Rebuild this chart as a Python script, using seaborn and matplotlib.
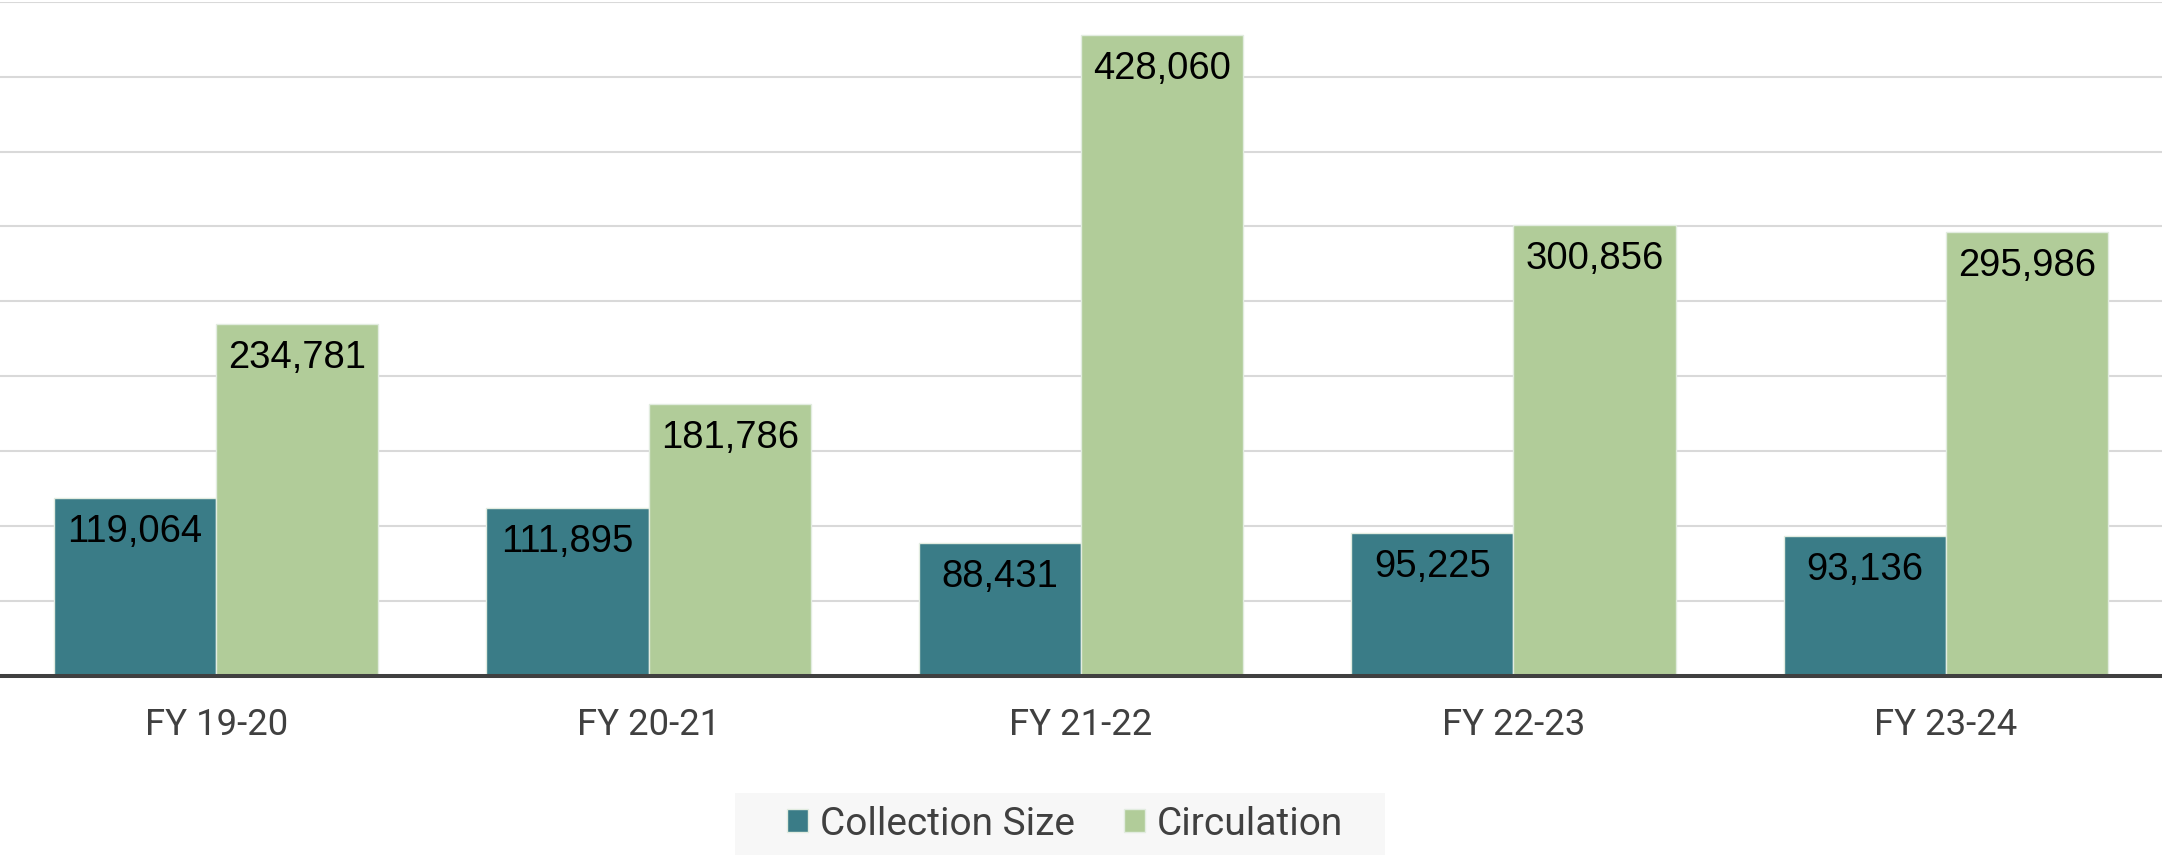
import matplotlib
matplotlib.use("Agg")
import matplotlib.pyplot as plt
from matplotlib.patches import Rectangle
import seaborn as sns
import pandas as pd

categories = ["FY 19-20", "FY 20-21", "FY 21-22", "FY 22-23", "FY 23-24"]
collection_size = [119064, 111895, 88431, 95225, 93136]
circulation = [234781, 181786, 428060, 300856, 295986]
series_names = ["Collection Size", "Circulation"]
colors = ["#3A7C87", "#B1CC99"]

df = pd.DataFrame({
    "Year": categories * 2,
    "Series": [series_names[0]] * len(categories) + [series_names[1]] * len(categories),
    "Value": collection_size + circulation,
})

sns.set_theme(style="white")
franklin = ["Roboto", "DejaVu Sans"]
regular = ["Liberation Sans", "DejaVu Sans"]
plt.rcParams["font.family"] = regular

fig = plt.figure(figsize=(21.62, 8.55), dpi=100)
ax = fig.add_axes([0.0, 0.2094, 1.0, 0.7886])

sns.barplot(data=df, x="Year", y="Value", hue="Series", palette=colors,
            width=0.75, gap=0, edgecolor="#e2ece0", linewidth=1,
            saturation=1, ax=ax, legend=True)

ax.set_ylim(0, 450000)
ax.set_xlim(-0.5, len(categories) - 0.5)
ax.set_yticks(range(0, 450001, 50000))
ax.yaxis.grid(True, color="#d9d9d9", linewidth=1.5)
ax.set_axisbelow(True)
ax.tick_params(axis="y", left=False, labelleft=False)
ax.tick_params(axis="x", bottom=False, pad=16, labelsize=26.3, labelcolor="#404040")
for lbl in ax.get_xticklabels():
    lbl.set_family(franklin)
ax.set_xlabel("")
ax.set_ylabel("")
for s in ["left", "right", "top"]:
    ax.spines[s].set_visible(False)
ax.spines["bottom"].set_color("#404040")
ax.spines["bottom"].set_linewidth(2.9)

for cont in ax.containers:
    for bar in cont:
        h = bar.get_height()
        ax.annotate(f"{h:,.0f}", (bar.get_x() + bar.get_width() / 2, h),
                    xytext=(0, -34), textcoords="offset pixels",
                    ha="center", va="center", fontsize=27.5, color="black",
                    family=regular)

handles, labels = ax.get_legend_handles_labels()
ax.get_legend().remove()
fig.patches.append(Rectangle((735 / 2162, 0.0), 650 / 2162, 62 / 855,
                             transform=fig.transFigure, facecolor="#f7f7f7",
                             edgecolor="none", zorder=0))
leg = fig.legend(handles, labels, loc="center", bbox_to_anchor=(1065 / 2162, 1 - 824 / 855),
                 ncol=2, frameon=False, handlelength=0.55, handleheight=0.55,
                 handletextpad=0.31, columnspacing=1.25, prop={"family": franklin, "size": 28})
for t in leg.get_texts():
    t.set_color("#404040")

fig.savefig("out.png", dpi=100)
